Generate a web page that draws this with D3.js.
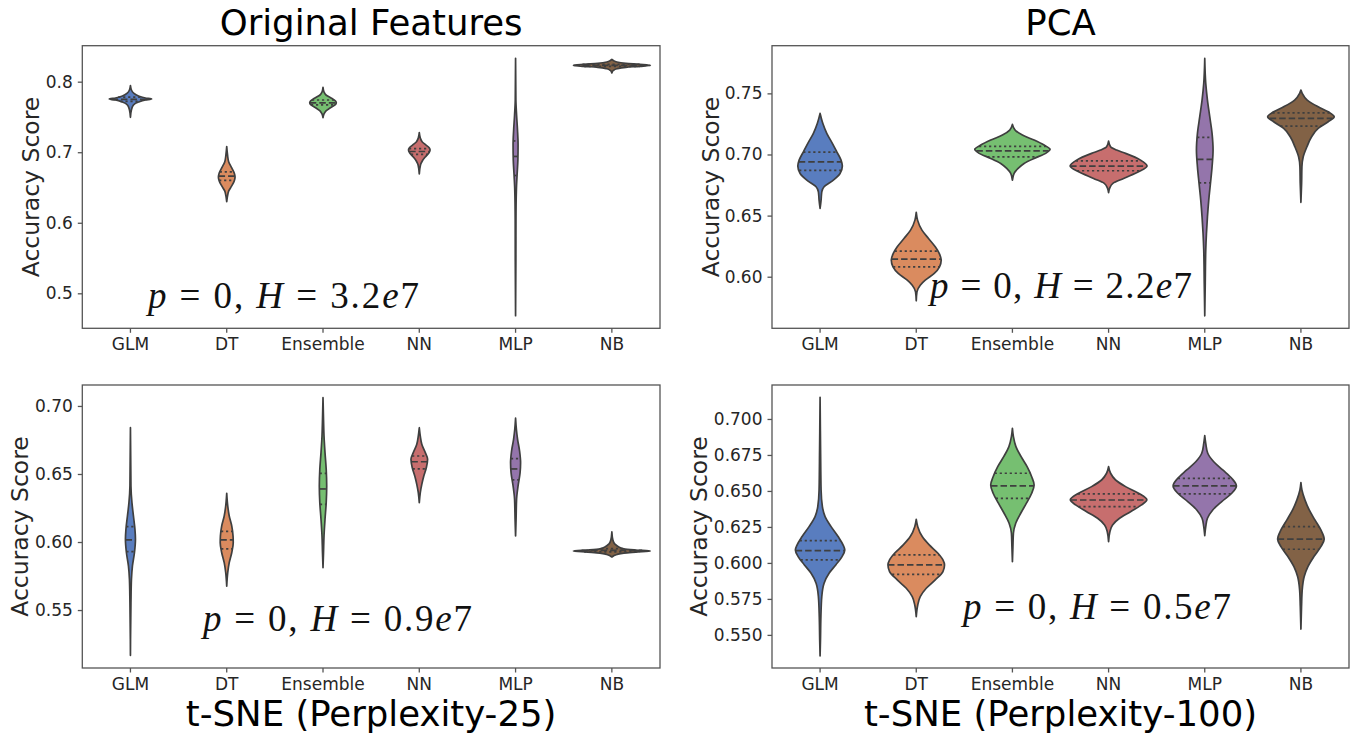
<!DOCTYPE html>
<html>
<head>
<meta charset="utf-8">
<script src="https://cdn.jsdelivr.net/npm/d3@7"></script>
<style>
  body { margin: 0; background: #fff; }
  svg { display: block; font-family: "DejaVu Sans", sans-serif; }
</style>
</head>
<body>
<svg id="chart" width="1351" height="736"></svg>
<script>
// Categories and colours (seaborn "muted", desaturated)
const categories = ['GLM', 'DT', 'Ensemble', 'NN', 'MLP', 'NB'];
const colors = ['#597dbf', '#da8b5f', '#76bf71', '#c76e6e', '#9475ab', '#826246'];

// Violin outlines: [accuracy, relative half-width]
const origProfiles = [
  [[0.7495,0],[0.760,0.026],[0.767,0.078],[0.7712,0.21],[0.7741,0.39],[0.7755,0.55],[0.7769,0.39],[0.7797,0.21],[0.784,0.078],[0.7882,0.026],[0.7943,0]],
  [[0.6299,0],[0.638,0.021],[0.6451,0.052],[0.6522,0.13],[0.6592,0.195],[0.6649,0.216],[0.6706,0.195],[0.6777,0.13],[0.6862,0.052],[0.6961,0.021],[0.7079,0]],
  [[0.749,0],[0.7542,0.026],[0.7585,0.078],[0.7627,0.182],[0.767,0.312],[0.7702,0.345],[0.7726,0.325],[0.7769,0.208],[0.7811,0.078],[0.7854,0.026],[0.7921,0]],
  [[0.6692,0],[0.6819,0.031],[0.6876,0.078],[0.6933,0.156],[0.6989,0.247],[0.7032,0.28],[0.706,0.26],[0.7103,0.169],[0.7145,0.078],[0.7202,0.026],[0.7277,0]],
  [[0.4683,0],[0.5473,0.008],[0.604,0.01],[0.6465,0.021],[0.6678,0.039],[0.689,0.06],[0.7103,0.065],[0.7315,0.05],[0.7528,0.026],[0.7741,0.008],[0.8332,0]],
  [[0.8123,0],[0.8159,0.039],[0.8183,0.13],[0.8204,0.364],[0.8218,0.727],[0.8232,1],[0.8247,0.727],[0.8261,0.364],[0.8279,0.13],[0.8301,0.039],[0.8315,0]]
];
const origQuartiles = [[0.772,0.775,0.778],[0.660,0.666,0.672],[0.767,0.770,0.774],[0.697,0.701,0.705],[0.667,0.694,0.716],[0.8218,0.8232,0.8245]];

const pcaProfiles = [
  [[0.6559,0],[0.6627,0.026],[0.6695,0.044],[0.6736,0.104],[0.679,0.345],[0.6845,0.519],[0.6905,0.579],[0.6954,0.545],[0.7022,0.434],[0.7091,0.319],[0.7173,0.174],[0.7255,0.07],[0.7336,0]],
  [[0.5803,0],[0.5876,0.018],[0.5931,0.104],[0.5972,0.234],[0.6027,0.468],[0.6081,0.605],[0.6136,0.649],[0.6191,0.597],[0.6245,0.494],[0.6313,0.319],[0.6381,0.148],[0.6463,0.034],[0.6526,0]],
  [[0.679,0],[0.6845,0.044],[0.6886,0.148],[0.6927,0.304],[0.6968,0.564],[0.7009,0.865],[0.7042,0.979],[0.7077,0.823],[0.7118,0.564],[0.7159,0.26],[0.72,0.07],[0.7246,0]],
  [[0.6687,0],[0.6723,0.026],[0.6764,0.112],[0.6804,0.39],[0.6858,0.779],[0.6905,1],[0.6954,0.831],[0.7009,0.442],[0.7036,0.208],[0.7063,0.052],[0.711,0]],
  [[0.568,0],[0.5948,0.013],[0.6218,0.026],[0.6354,0.044],[0.649,0.07],[0.6627,0.104],[0.6764,0.148],[0.6899,0.19],[0.7036,0.216],[0.7173,0.19],[0.7309,0.13],[0.7445,0.07],[0.7582,0.026],[0.7786,0]],
  [[0.6608,0],[0.6764,0.018],[0.6899,0.026],[0.6981,0.06],[0.7063,0.156],[0.7145,0.278],[0.7214,0.449],[0.7268,0.709],[0.7309,0.865],[0.7349,0.709],[0.739,0.449],[0.7445,0.164],[0.75,0.034],[0.7527,0]]
];
const pcaQuartiles = [[0.687,0.694,0.702],[0.608,0.6144,0.621],[0.698,0.703,0.7067],[0.6867,0.6905,0.6948],[0.6768,0.696,0.714],[0.7232,0.7295,0.7341]];

const tsne25Profiles = [
  [[0.5167,0],[0.5554,0.013],[0.5726,0.026],[0.5824,0.052],[0.5921,0.104],[0.602,0.13],[0.6093,0.117],[0.6191,0.078],[0.6289,0.039],[0.6412,0.013],[0.684,0]],
  [[0.5676,0],[0.5774,0.026],[0.5848,0.065],[0.5921,0.13],[0.5995,0.169],[0.6044,0.164],[0.6118,0.13],[0.6191,0.065],[0.6265,0.026],[0.6358,0]],
  [[0.5811,0],[0.5921,0.013],[0.6044,0.026],[0.6167,0.052],[0.6289,0.083],[0.6412,0.096],[0.6535,0.083],[0.6657,0.052],[0.6779,0.026],[0.6902,0.013],[0.7061,0]],
  [[0.6289,0],[0.6363,0.026],[0.6424,0.065],[0.6485,0.117],[0.6546,0.182],[0.6608,0.216],[0.6657,0.156],[0.6718,0.065],[0.6779,0.026],[0.684,0]],
  [[0.6044,0],[0.6167,0.013],[0.6314,0.026],[0.6412,0.065],[0.651,0.117],[0.6583,0.13],[0.6669,0.104],[0.6755,0.052],[0.6829,0.021],[0.691,0]],
  [[0.589,0],[0.5908,0.13],[0.5919,0.312],[0.5926,0.623],[0.5934,1],[0.5941,0.623],[0.5949,0.312],[0.5963,0.182],[0.5985,0.078],[0.6015,0.026],[0.6074,0]]
];
const tsne25Quartiles = [[0.593,0.6015,0.6113],[0.5949,0.6015,0.6078],[0.6277,0.639,0.6505],[0.6537,0.659,0.6632],[0.6456,0.6537,0.6613],[0.5928,0.5938,0.5952]];

const tsne100Profiles = [
  [[0.5354,0],[0.5465,0.01],[0.5627,0.021],[0.5766,0.044],[0.5859,0.104],[0.5928,0.234],[0.5986,0.408],[0.6044,0.571],[0.609,0.642],[0.6125,0.597],[0.6183,0.468],[0.6252,0.286],[0.6322,0.13],[0.6391,0.06],[0.6507,0.026],[0.6785,0.013],[0.7151,0]],
  [[0.5627,0],[0.5708,0.039],[0.5766,0.104],[0.5824,0.26],[0.5882,0.494],[0.594,0.694],[0.5986,0.735],[0.6021,0.694],[0.6067,0.564],[0.6125,0.338],[0.6183,0.156],[0.6252,0.039],[0.6303,0]],
  [[0.6009,0],[0.6113,0.013],[0.6206,0.026],[0.6276,0.086],[0.6345,0.216],[0.6415,0.364],[0.6484,0.501],[0.6542,0.564],[0.6599,0.501],[0.6669,0.382],[0.6738,0.226],[0.6808,0.091],[0.6877,0.026],[0.6935,0]],
  [[0.6148,0],[0.6217,0.034],[0.6264,0.104],[0.631,0.286],[0.6356,0.571],[0.6403,0.857],[0.6438,0.995],[0.6484,0.779],[0.653,0.442],[0.6576,0.182],[0.6623,0.052],[0.6669,0]],
  [[0.619,0],[0.6252,0.026],[0.631,0.07],[0.6368,0.208],[0.6426,0.442],[0.6484,0.701],[0.6535,0.823],[0.6588,0.701],[0.6646,0.468],[0.6703,0.234],[0.6762,0.078],[0.6831,0.026],[0.6884,0]],
  [[0.554,0],[0.5697,0.016],[0.5813,0.034],[0.5905,0.086],[0.5974,0.182],[0.6044,0.338],[0.6113,0.519],[0.6165,0.605],[0.6229,0.519],[0.6299,0.364],[0.6368,0.216],[0.6438,0.104],[0.6507,0.026],[0.6558,0]]
];
const tsne100Quartiles = [[0.6021,0.6086,0.6155],[0.5921,0.5986,0.6056],[0.6449,0.6535,0.6623],[0.6391,0.6437,0.6479],[0.6479,0.6535,0.6588],[0.6095,0.6165,0.6252]];

// Tick labels per panel
const origTicks = [0.5, 0.6, 0.7, 0.8];
const pcaTicks = [0.60, 0.65, 0.70, 0.75];
const tsne25Ticks = [0.55, 0.60, 0.65, 0.70];
const tsne100Ticks = [0.550, 0.575, 0.600, 0.625, 0.650, 0.675, 0.700];

// Kruskal-Wallis statistic shown in each panel
const hValues = ['3.2', '2.2', '0.9', '0.5'];

const panels = [
  { profiles: origProfiles, quartiles: origQuartiles, ticks: origTicks, fmt: '.1f', domain: [0.4504, 0.851],
    x0: 82.3, x1: 660, y0: 45.7, y1: 328.3, labelX: 31, title: 'Original Features', titleY: 35,
    note: { x: 148, y: 308, len: 271 } },
  { profiles: pcaProfiles, quartiles: pcaQuartiles, ticks: pcaTicks, fmt: '.2f', domain: [0.5578, 0.789],
    x0: 772, x1: 1349, y0: 45.7, y1: 328.3, labelX: 711, title: 'PCA', titleY: 35,
    note: { x: 930, y: 298, len: 262 } },
  { profiles: tsne25Profiles, quartiles: tsne25Quartiles, ticks: tsne25Ticks, fmt: '.2f', domain: [0.5074, 0.7154],
    x0: 82.3, x1: 660, y0: 385, y1: 668, labelX: 20, title: 't-SNE (Perplexity-25)', titleY: 726,
    note: { x: 203, y: 631, len: 269 } },
  { profiles: tsne100Profiles, quartiles: tsne100Quartiles, ticks: tsne100Ticks, fmt: '.3f', domain: [0.527, 0.7236],
    x0: 772, x1: 1349, y0: 385, y1: 668, labelX: 699, title: 't-SNE (Perplexity-100)', titleY: 726,
    note: { x: 963, y: 619, len: 268 } }
];

const svg = d3.select('#chart');
const ink = '#262626';
const edge = '#3f3f3f';

panels.forEach((p, pi) => {
  const x = d3.scaleBand().domain(categories).range([p.x0, p.x1]);
  const y = d3.scaleLinear().domain(p.domain).range([p.y1, p.y0]);
  const w = d3.scaleLinear().domain([0, 1]).range([0, x.bandwidth() * 0.4]);
  const g = svg.append('g');

  // violins
  categories.forEach((c, i) => {
    const cx = x(c) + x.bandwidth() / 2;
    const prof = p.profiles[i];
    const area = d3.area()
      .curve(d3.curveMonotoneY)
      .y(d => y(d[0]))
      .x0(d => cx - w(d[1]))
      .x1(d => cx + w(d[1]));
    g.append('path')
      .attr('d', area(prof))
      .attr('fill', colors[i])
      .attr('stroke', edge)
      .attr('stroke-width', 1.7)
      .attr('stroke-linejoin', 'round');

    // half-width at a given accuracy, linear between outline points
    const widthAt = d3.scaleLinear().domain(prof.map(d => d[0])).range(prof.map(d => d[1]));
    p.quartiles[i].forEach((q, k) => {
      const hw = w(widthAt(q));
      g.append('line')
        .attr('x1', cx - hw).attr('x2', cx + hw)
        .attr('y1', y(q)).attr('y2', y(q))
        .attr('stroke', edge)
        .attr('stroke-width', 1.7)
        .attr('stroke-dasharray', k === 1 ? '6.5,3' : '2.2,2.8');
    });
  });

  // frame
  g.append('rect')
    .attr('x', p.x0).attr('y', p.y0)
    .attr('width', p.x1 - p.x0).attr('height', p.y1 - p.y0)
    .attr('fill', 'none').attr('stroke', '#555').attr('stroke-width', 1.3);

  // axes
  const yAxis = g.append('g')
    .attr('transform', `translate(${p.x0},0)`)
    .call(d3.axisLeft(y).tickValues(p.ticks).tickFormat(d3.format(p.fmt)).tickSize(4.5).tickPadding(5));
  const xAxis = g.append('g')
    .attr('transform', `translate(0,${p.y1})`)
    .call(d3.axisBottom(x).tickSize(4.5).tickPadding(5));
  [yAxis, xAxis].forEach(a => {
    a.select('.domain').remove();
    a.selectAll('.tick line').attr('stroke', '#555').attr('stroke-width', 1.3);
    a.selectAll('.tick text').attr('fill', ink).style('font-size', '17px')
      .style('font-family', '"DejaVu Sans", sans-serif');
  });

  // y label
  g.append('text')
    .attr('transform', `translate(${p.labelX},${(p.y0 + p.y1) / 2}) rotate(-90)`)
    .attr('text-anchor', 'middle')
    .attr('dominant-baseline', 'central')
    .attr('fill', ink)
    .style('font-size', '23.5px')
    .text('Accuracy Score');

  // panel title (top) or x label (bottom)
  g.append('text')
    .attr('x', (p.x0 + p.x1) / 2)
    .attr('y', p.titleY)
    .attr('text-anchor', 'middle')
    .attr('fill', '#000')
    .style('font-size', '35.5px')
    .text(p.title);

  // test statistic note
  const note = g.append('text')
    .attr('x', p.note.x).attr('y', p.note.y)
    .attr('textLength', p.note.len)
    .attr('lengthAdjust', 'spacing')
    .attr('fill', '#111')
    .style('font-family', '"Liberation Serif", serif')
    .style('font-size', '37px');
  note.append('tspan').attr('font-style', 'italic').text('p');
  note.append('tspan').text(' = 0, ');
  note.append('tspan').attr('font-style', 'italic').text('H');
  note.append('tspan').text(' = ' + hValues[pi]);
  note.append('tspan').attr('font-style', 'italic').text('e');
  note.append('tspan').text('7');
});
</script>
</body>
</html>
